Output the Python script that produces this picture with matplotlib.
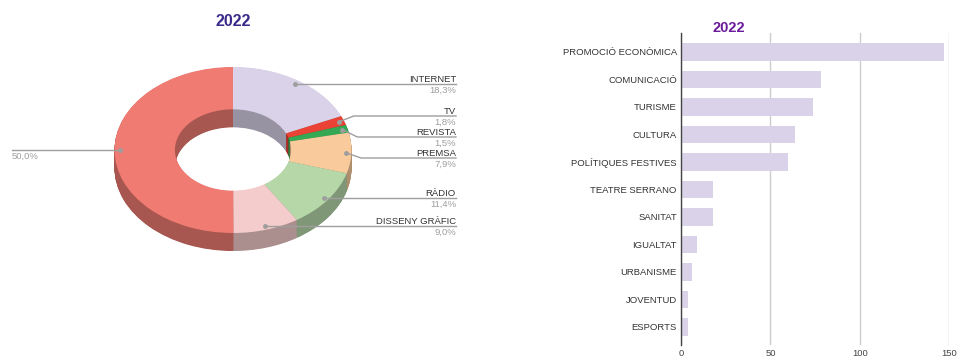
import matplotlib
matplotlib.use('Agg')
import matplotlib.pyplot as plt
import matplotlib.colors as mcolors
import numpy as np
from matplotlib.transforms import Affine2D
from matplotlib.lines import Line2D

plt.rcParams['font.family'] = ['Liberation Sans', 'DejaVu Sans']

# ---------------- data ----------------
media_labels = ['INTERNET', 'TV', 'REVISTA', 'PREMSA', 'RÀDIO', 'DISSENY GRÀFIC', '']
media_share = [18.3, 1.8, 1.5, 7.9, 11.4, 9.0, 50.0]
media_colors = ['#d9d2e9', '#ea4335', '#34a853', '#f9cb9c', '#b6d7a8', '#f4cccc', '#f07b72']

areas = ['PROMOCIÓ ECONÒMICA', 'COMUNICACIÓ', 'TURISME', 'CULTURA', 'POLÍTIQUES FESTIVES',
         'TEATRE SERRANO', 'SANITAT', 'IGUALTAT', 'URBANISME', 'JOVENTUD', 'ESPORTS']
area_values = [147, 78, 74, 64, 60, 18, 18, 9, 6, 4, 4]
x_ticks = [0, 50, 100, 150]
chart_title = '2022'

# ---------------- figure ----------------
W, H = 959, 358
fig = plt.figure(figsize=(W / 100, H / 100), dpi=100)
T = Affine2D().scale(1, -1).translate(0, H)  # top-down pixel coords

# ---------------- 3D donut ----------------
CX, CY, RX, RY, DEPTH = 233, 150, 118.5, 83, 18
HOLE_W = 0.51
pax = fig.add_axes([0, 0, 479.5 / W, 1])
side_colors = [np.array(mcolors.to_rgb(c)) * 0.7 for c in media_colors]
nl = 36
for k in range(nl, 0, -1):
    off = -DEPTH / RY * k / nl
    pax.pie(media_share, colors=side_colors, startangle=90, counterclock=False,
            center=(0, off), normalize=True,
            wedgeprops=dict(width=HOLE_W, linewidth=0))
pax.pie(media_share, colors=media_colors, startangle=90, counterclock=False,
        normalize=True, wedgeprops=dict(width=HOLE_W, linewidth=0))
pax.set_aspect('auto')
pax.set_xlim(-CX / RX, (479.5 - CX) / RX)
pax.set_ylim(-(H - CY) / RY, CY / RY)
pax.axis('off')

fig.text(233, 22, chart_title, transform=T, ha='center', va='center',
         fontsize=11.5, fontweight='bold', color='#3b2a8a')

LINE_END = 456
elbow_y = [None, 116, 137, 158, None, None, None]
total = sum(media_share)
cum = 0.0
for i, (lab, v) in enumerate(zip(media_labels, media_share)):
    t = np.deg2rad(90 - 360 * (cum + v / 2) / total)
    cum += v
    dx, dy = pax.transData.transform((0.955 * np.cos(t), 0.955 * np.sin(t)))
    dy = H - dy
    pct = f'{v:.1f}%'.replace('.', ',')
    if np.cos(t) > 0:
        if elbow_y[i] is not None:
            ly = elbow_y[i]
            xs, ys = [dx, dx + 15, LINE_END], [dy, ly, ly]
        else:
            ly = dy
            xs, ys = [dx, LINE_END], [dy, dy]
        tx, ha = LINE_END, 'right'
    else:
        ly = dy
        xs, ys = [12, dx], [dy, dy]
        tx, ha = 12, 'left'
    fig.add_artist(Line2D(xs, ys, transform=T, color='#9e9e9e', linewidth=1))
    fig.add_artist(Line2D([dx], [dy], transform=T, marker='o', markersize=2.5,
                          color='#9e9e9e', linestyle='none'))
    if lab:
        fig.text(tx, ly - 2, lab, transform=T, ha=ha, va='baseline',
                 fontsize=6.8, color='#333333')
    fig.text(tx, ly + 2, pct, transform=T, ha=ha, va='top',
             fontsize=6.8, color='#9e9e9e')

# ---------------- bar chart ----------------
bax = fig.add_axes([681 / W, (H - 345) / H, (949.3 - 681) / W, (345 - 33) / H])
y = np.arange(len(areas))
bax.barh(y, area_values, height=0.65, color='#d9d2e9')
bax.set_xlim(0, 150)
bax.set_ylim(len(areas) - 1 + 0.655, -0.69)
bax.set_xticks(x_ticks)
bax.set_xticklabels([str(t) for t in x_ticks])
bax.set_yticks(y)
bax.set_yticklabels(areas)
bax.tick_params(axis='both', length=0, labelsize=6.8, colors='#333333')
bax.tick_params(axis='y', pad=3)
bax.tick_params(axis='x', pad=3, colors='#444444')
bax.grid(axis='x', color='#cccccc', linewidth=1)
bax.set_axisbelow(True)
for s in ['top', 'right', 'bottom']:
    bax.spines[s].set_visible(False)
bax.spines['left'].set_color('#444444')
bax.spines['left'].set_linewidth(1)

fig.text(728.5, 28.5, chart_title, transform=T, ha='center', va='center',
         fontsize=10.5, fontweight='bold', color='#6a1b9a')

fig.savefig('out.png', dpi=100)
